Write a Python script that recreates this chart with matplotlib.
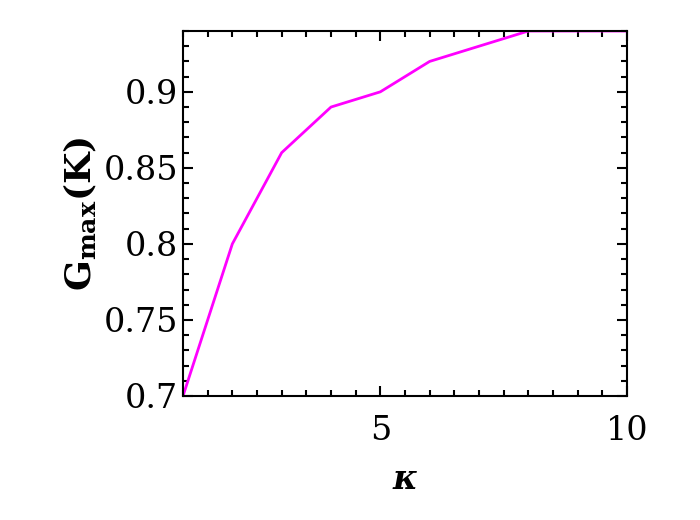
import matplotlib
matplotlib.use("Agg")
import matplotlib.pyplot as plt
from matplotlib.ticker import MultipleLocator

plt.rcParams['font.family'] = 'DejaVu Serif'
plt.rcParams['mathtext.fontset'] = 'dejavuserif'

kappa = [1, 2, 3, 4, 5, 6, 7, 8, 9, 10]
gmax = [0.70, 0.80, 0.86, 0.89, 0.90, 0.92, 0.93, 0.94, 0.94, 0.94]

fig = plt.figure(figsize=(7, 5.2), dpi=100)
ax = fig.add_axes([183/700, 1 - 396/520, 444/700, 365/520])
ax.plot(kappa, gmax, color='#ff00ff', linewidth=2)
ax.set_xlim(1, 10)
ax.set_ylim(0.7, 0.94)
ax.set_xticks([5, 10])
ax.xaxis.set_minor_locator(MultipleLocator(0.5))
ax.set_yticks([0.7, 0.75, 0.8, 0.85, 0.9])
ax.set_yticklabels(['0.7', '0.75', '0.8', '0.85', '0.9'])
ax.yaxis.set_minor_locator(MultipleLocator(0.01))
ax.tick_params(which='both', direction='in', top=True, right=True, labelsize=24, width=1.5)
ax.tick_params(which='major', length=7)
ax.tick_params(which='minor', length=4)
ax.tick_params(axis='x', pad=14)
for s in ax.spines.values():
    s.set_linewidth(1.5)
ax.set_xlabel(r'$\boldsymbol{\kappa}$', fontsize=24, labelpad=12)
ax.set_ylabel(r'$\mathbf{G_{max}(K)}$', fontsize=26, labelpad=4)
fig.savefig('out.png', dpi=100)
